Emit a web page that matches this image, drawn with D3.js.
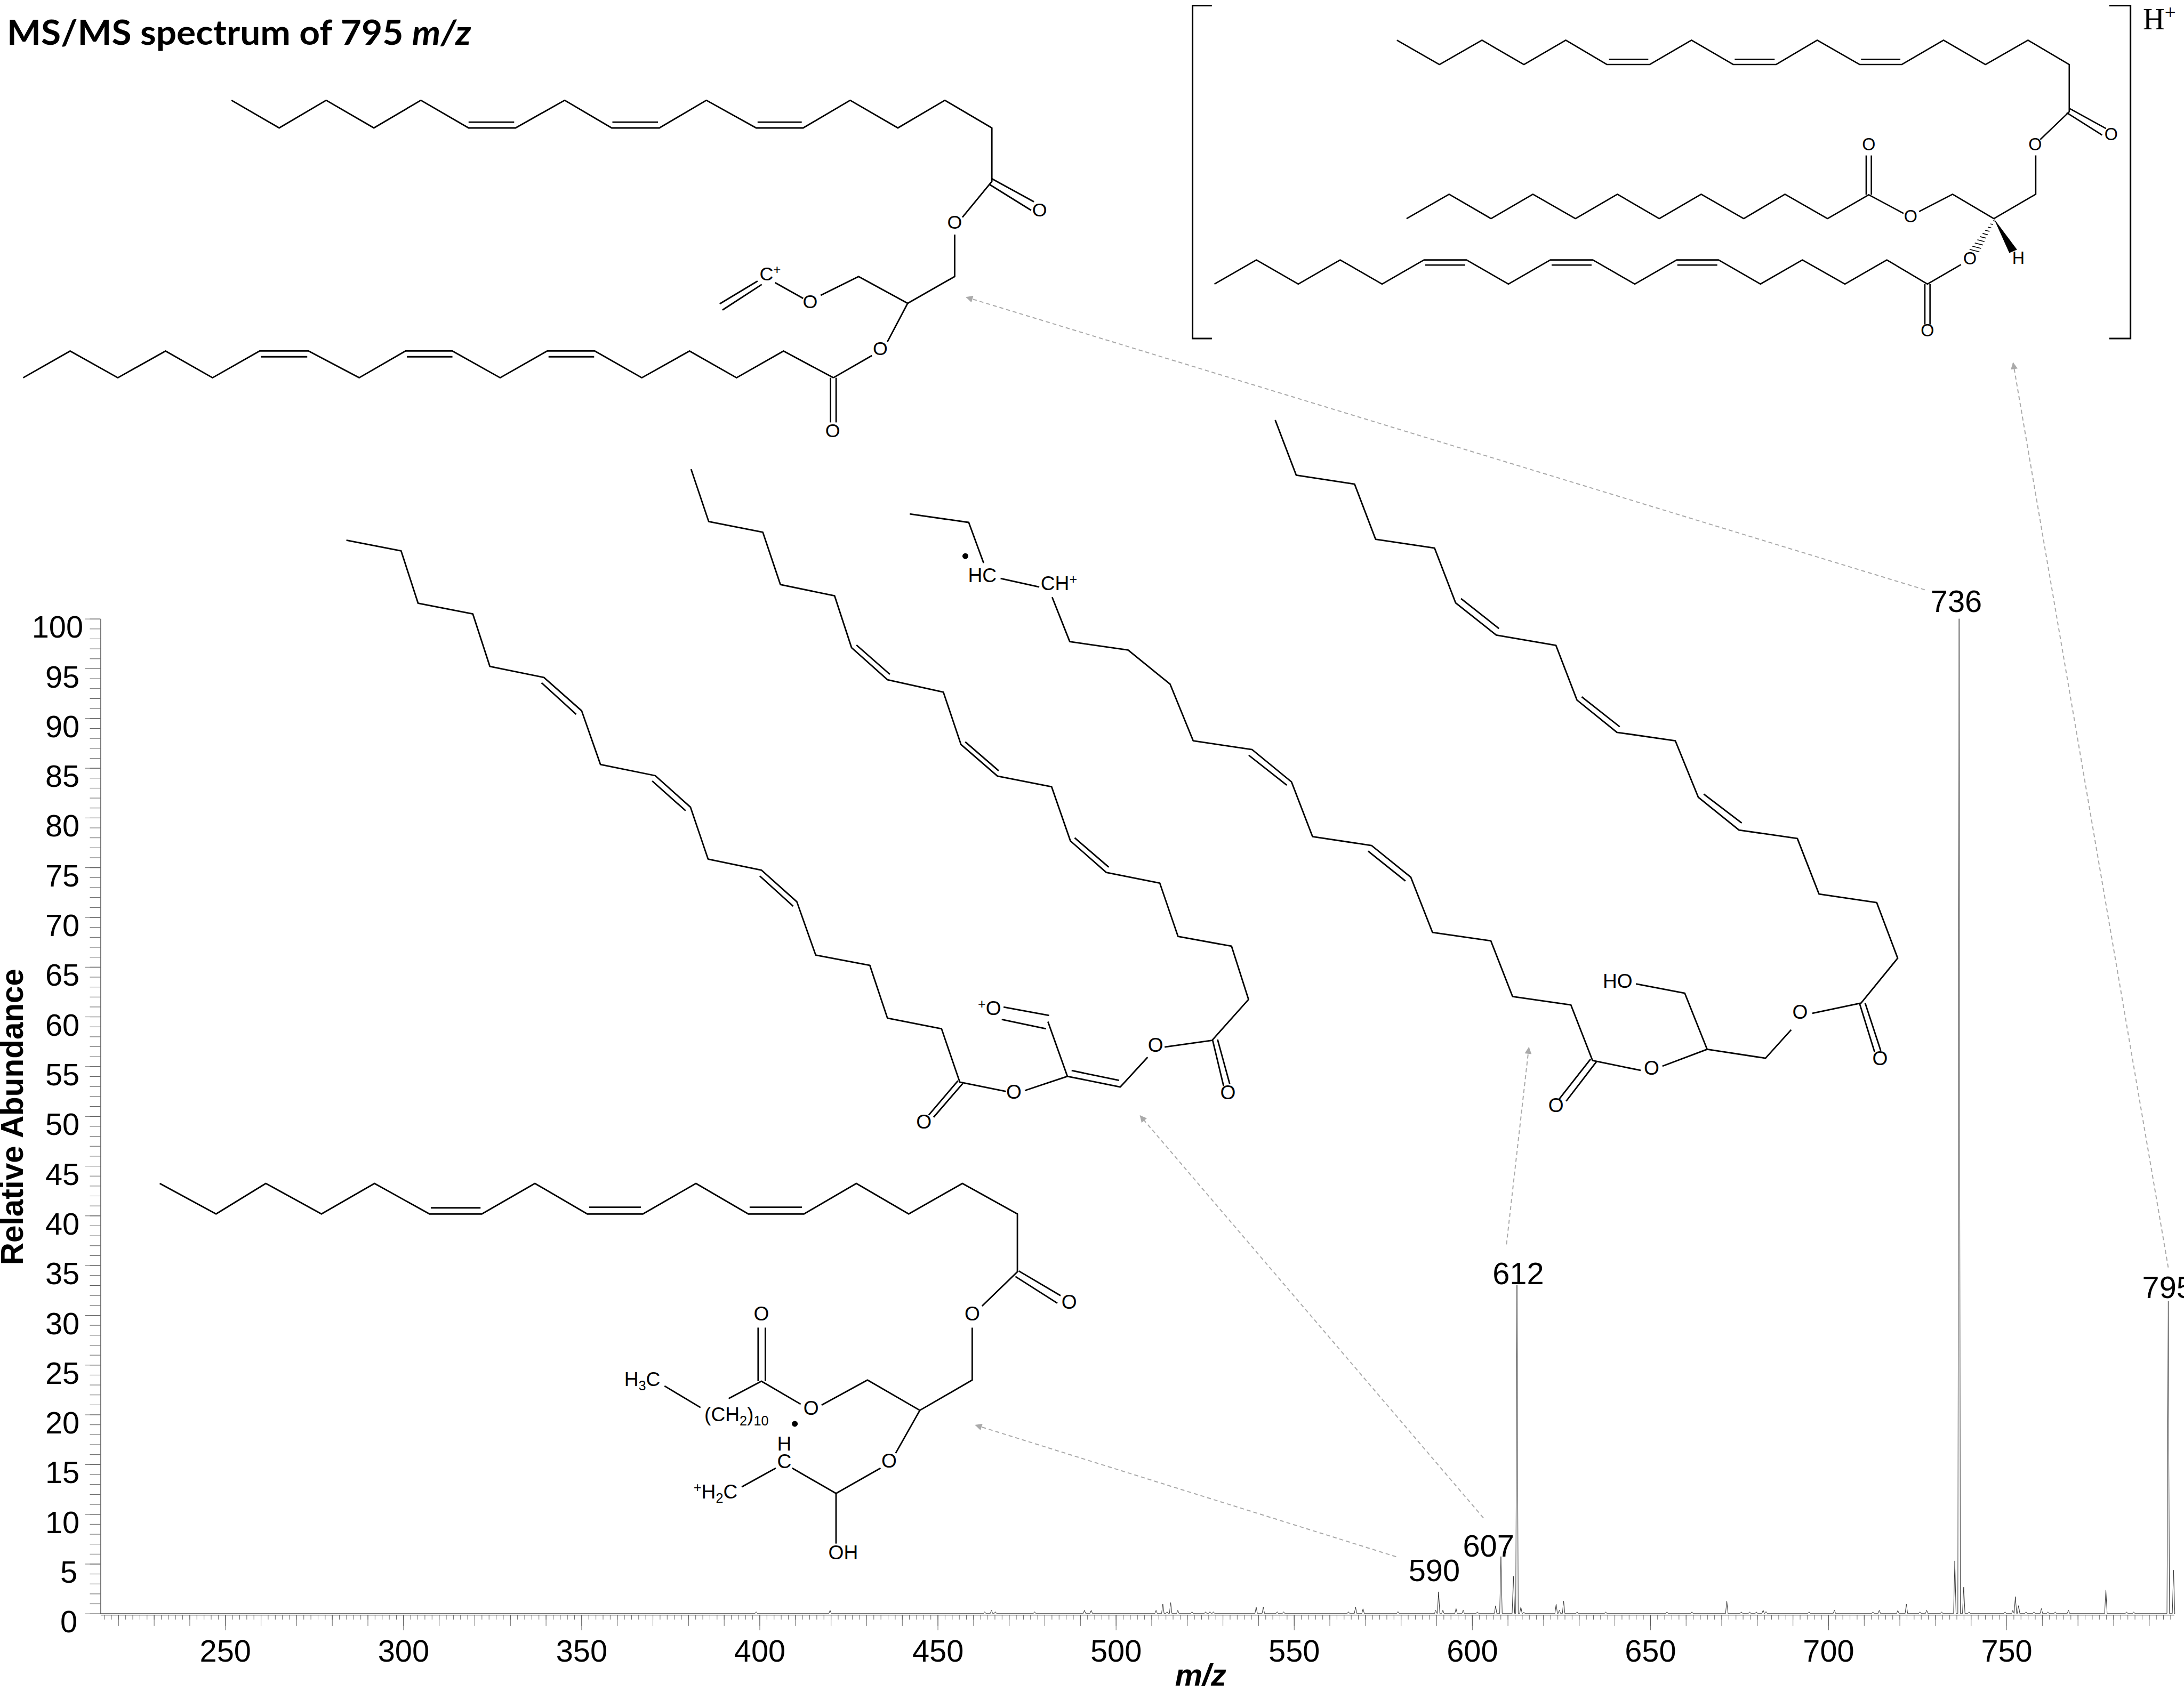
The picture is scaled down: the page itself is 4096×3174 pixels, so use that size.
<!DOCTYPE html>
<html>
<head>
<meta charset="utf-8">
<style>
  html, body { margin: 0; padding: 0; background: #fff; overflow: hidden; }
  svg { display: block; }
</style>
<script src="https://cdn.jsdelivr.net/npm/d3@7"></script>
</head>
<body>
<div id="chart"></div>
<script>
// Reference is 5957 wide, everything is drawn at k of it
const k = 4096 / 5957
const width = 4096
const height = 3174

// ---- spectrum values: [m/z, relative abundance]
const peaks_low = [
  [399.05, 0.17], [419.8, 0.32], [463.2, 0.17], [465.1, 0.32], [466.2, 0.17], [477.2, 0.17],
  [491.2, 0.32], [493.1, 0.32], [511.3, 0.32], [513.2, 0.95], [514.4, 0.17], [515.4, 1.09],
  [517.4, 0.32], [521.4, 0.17], [525.2, 0.17], [526.4, 0.17], [527.4, 0.17], [539.4, 0.63],
  [541.4, 0.63], [545.3, 0.17], [547.1, 0.17], [565.3, 0.17], [567.3, 0.63], [569.4, 0.48]
]
const peaks_mid = [
  [579.2, 0.19], [589.8, 0.33], [590.6, 2.19], [591.8, 0.33], [595.5, 0.5], [597.5, 0.33],
  [601.5, 0.16], [606.6, 0.77], [608.1, 5.73], [611.6, 3.74], [612.6, 33], [613.7, 0.65],
  [614.5, 0.15], [623.6, 0.94], [624.5, 0.33], [625.7, 1.25], [629.5, 0.16], [637.5, 0.16],
  [654.7, 0.16], [661.7, 0.16], [671.5, 1.25], [675.6, 0.16], [677.9, 0.16], [679.8, 0.16],
  [681.7, 0.33], [682.5, 0.19], [694.6, 0.16], [701.7, 0.33]
]
const peaks_high = [
  [712.5, 0.16], [714.3, 0.33], [719.5, 0.3], [721.9, 0.94], [725.7, 0.16], [727.6, 0.33],
  [731.8, 0.16], [735.5, 5.3], [736.7, 100], [738, 2.65], [739.5, 0.16], [749.6, 0.16],
  [751.8, 0.33], [752.5, 1.7], [753.4, 0.8], [755.5, 0.16], [757.7, 0.16], [759.8, 0.5],
  [761.6, 0.16], [763.7, 0.16], [767.4, 0.33], [777.9, 2.36], [783.7, 0.16], [785.7, 0.16],
  [795.4, 31.4], [796.9, 4.36]
]
const peak_half_width = 0.35

// ---- axes
const x_domain = [215, 797]
const y_domain = [0, 100]
const x_tick_labels = [250, 300, 350, 400, 450, 500, 550, 600, 650, 700, 750]
const y_tick_labels = d3.range(0, 101, 5)

// ---- peak labels: text, left edge and baseline in reference pixels
const peak_labels = [
  ["736", 5266, 1670], ["612", 4071, 3503], ["795", 5843, 3542],
  ["590", 3842, 4314], ["607", 3990, 4246]
]

// ---- dashed arrows from the peaks to their structures, [x1, y1, x2, y2] in reference pixels
const arrows = [
  [5250, 1609, 2636, 811],
  [5914, 3458, 5491, 990],
  [4109, 3395, 4170, 2858],
  [4046, 4141, 3110, 3044],
  [3808, 4247, 2661, 3888]
]

// ---- Structures. Vertices are traced in the coordinates of a crop of the reference,
// each crop maps to the page with its own pair of scales below.

// Top left, crop 0,0 3000x1300
const mol_a_bonds = [
  [[330,330],[398,421],[465,330],[533,421],[600,330],[668,421],[735,421],[805,330],[872,421],[940,421],[1007,330],[1078,421],[1145,421],[1212,330],[1280,421],[1347,330],[1414,421],[1414,597],[1372,715]],
  [[668,402],[733,402]], [[873,402],[938,402]], [[1080,402],[1143,402]],
  [[1414,588],[1474,664]], [[1410,606],[1470,692]],
  [[1361,772],[1361,910],[1294,998],[1224,910],[1170,972]],
  [[1145,982],[1105,930]], [[1080,925],[1026,1000]], [[1086,936],[1030,1020]],
  [[1294,998],[1265,1125]], [[1243,1170],[1188,1243]],
  [[1184,1243],[1184,1390]], [[1192,1243],[1192,1390]],
  [[1188,1243],[1117,1155],[1050,1243],[983,1155],[915,1243],[848,1155],[780,1155],[713,1243],[645,1155],[578,1155],[512,1243],[440,1155],[370,1155],[303,1243],[236,1155],[168,1243],[100,1155],[33,1243]],
  [[372,1174],[438,1174]], [[580,1174],[645,1174]], [[782,1174],[847,1174]]
]
const mol_a_labels = [
  ["O", 1482, 690], ["O", 1361, 730], ["C^+", 1098, 900], ["O", 1155, 992], ["O", 1255, 1145], ["O", 1187, 1415]
]

// Top right, crop 3200,0 2757x1000
const mol_b_bonds = [
  [[347,172],[413,276],[479,172],[544,276],[609,172],[673,276],[739,276],[804,172],[869,276],[935,276],[999,172],[1065,276],[1130,276],[1195,172],[1260,276],[1326,172],[1390,276],[1390,478],[1345,597]],
  [[676,254],[737,254]], [[871,254],[933,254]], [[1067,254],[1128,254]],
  [[1391,465],[1447,550]], [[1386,482],[1441,578]],
  [[1338,665],[1338,831],[1273,935],[1209,831],[1157,905]],
  [[1133,913],[1079,833],[1015,935],[949,831],[885,935],[819,831],[754,935],[689,831],[624,935],[558,831],[493,935],[428,831],[362,935]],
  [[1075,833],[1075,665]], [[1083,833],[1083,665]],
  [[1222,1132],[1170,1215],[1107,1112],[1042,1215],[976,1112],[911,1215],[846,1112],[781,1112],[716,1215],[651,1112],[585,1112],[520,1215],[455,1112],[389,1112],[324,1215],[259,1112],[194,1215],[129,1112],[64,1215]],
  [[391,1134],[453,1134]], [[587,1134],[649,1134]], [[782,1134],[844,1134]],
  [[1166,1215],[1166,1388]], [[1174,1215],[1174,1388]]
]
const mol_b_brackets = [
  [[60,24],[30,24],[30,1448],[60,1448]],
  [[1452,24],[1485,24],[1485,1448],[1452,1448]]
]
const mol_b_labels = [
  ["O", 1455, 574], ["O", 1337, 616], ["O", 1079, 617], ["O", 1144, 925],
  ["O", 1236, 1105], ["H", 1311, 1103], ["O", 1170, 1412]
]
const mol_b_wedge = [[1273,935],[1297,1082],[1309,1068]]
const mol_b_hash = [[1273,945],[1243,1072]]

// Bottom left, crop 300,3100 2800x1200
const mol_c_bonds = [
  [[76,168],[162,277],[238,168],[323,277],[404,168],[488,277],[568,277],[649,168],[729,277],[814,277],[895,168],[975,277],[1060,277],[1140,168],[1220,277],[1302,168],[1386,277],[1386,483],[1332,605]],
  [[490,255],[566,255]], [[732,253],[811,253]], [[977,253],[1057,253]],
  [[1388,480],[1452,568]], [[1383,500],[1447,595]],
  [[1317,682],[1317,869],[1237,977],[1157,869],[1087,958]],
  [[1055,955],[995,873],[945,935]], [[847,890],[902,967]],
  [[990,873],[990,682]], [[1001,873],[1001,682]],
  [[1237,977],[1200,1130]], [[1177,1183],[1109,1273],[1042,1183]],
  [[1017,1183],[965,1250]], [[1109,1273],[1109,1452]]
]
const mol_c_labels = [
  ["O", 1465, 590], ["O", 1317, 632], ["O", 995, 632], ["O", 1071, 967], ["H_3C", 813, 865],
  ["(CH_2)_10", 957, 990], ["O", 1190, 1155], ["H", 1030, 1095], ["C", 1030, 1158],
  ["^+H_2C", 925, 1265], ["OH", 1120, 1482]
]
const mol_c_dots = [[1046, 1025]]

// Middle left, crop 900,1200 2600x1900
const mol_d_bonds = [
  [[27,226],[117,250],[145,368],[235,392],[263,510],[352,535],[414,610],[445,731],[535,756],[593,827],[622,944],[710,969],[768,1040],[799,1160],[888,1183],[917,1302],[1006,1326],[1036,1446],[1112,1467]],
  [[348,547],[405,618]], [[530,768],[585,835]], [[707,982],[762,1050]],
  [[1033,1443],[985,1520]], [[1041,1449],[993,1525]],
  [[1143,1465],[1213,1433],[1300,1457],[1345,1390]], [[1220,1420],[1298,1442]],
  [[1213,1433],[1181,1310]], [[1183,1296],[1108,1277]], [[1178,1326],[1105,1305]],
  [[1373,1367],[1451,1352],[1511,1260],[1483,1140],[1395,1118],[1365,998],[1277,974],[1218,903],[1187,781],[1098,757],[1038,686],[1009,568],[917,540],[858,468],[830,351],[741,326],[712,208],[623,184],[594,66]],
  [[866,462],[921,528]], [[1045,680],[1100,745]], [[1225,896],[1281,962]],
  [[1452,1352],[1470,1455]], [[1460,1350],[1480,1450]]
]
const mol_d_labels = [
  ["O", 977, 1534], ["O", 1125, 1467], ["^+O", 1085, 1279], ["O", 1358, 1362], ["O", 1477, 1468]
]

// Middle right, crop 2400,1100 2900x2000
const mol_e_bonds = [
  [[44,237],[131,255],[153,342]], [[178,375],[235,393]],
  [[254,415],[280,510],[366,528],[428,601],[462,722],[549,741],[607,810],[638,927],[725,946],[783,1014],[815,1132],[901,1150],[933,1269],[1019,1287],[1051,1406],[1122,1427]],
  [[544,753],[600,817]], [[720,958],[775,1022]],
  [[1048,1403],[1002,1488]], [[1057,1408],[1012,1493]],
  [[1154,1418],[1220,1382],[1306,1401],[1344,1340]],
  [[1220,1382],[1187,1262],[1115,1242]],
  [[1375,1305],[1447,1283],[1501,1187],[1470,1068],[1385,1050],[1353,931],[1267,913],[1207,843],[1173,722],[1087,704],[1028,635],[997,518],[909,496],[849,427],[818,310],[731,291],[700,173],[614,154],[583,36]],
  [[1215,836],[1271,898]], [[1035,628],[1091,692]], [[857,418],[913,482]],
  [[1445,1285],[1467,1388]], [[1453,1283],[1476,1385]]
]
const mol_e_labels = [
  ["HC", 151, 367], ["CH^+", 264, 385], ["O", 997, 1501], ["O", 1138, 1421], ["O", 1357, 1301],
  ["O", 1475, 1401], ["HO", 1088, 1235]
]
const mol_e_dots = [[126, 327]]

// ---- page
const svg = d3.select("#chart")
  .append("svg")
  .attr("width", width)
  .attr("height", height)
  .attr("viewBox", `0 0 ${width} ${height}`)
  .style("background", "#fff")

const px = d3.scaleLinear().domain([0, 5957]).range([0, width])

// ---- chart scales
const x_scale = d3.scaleLinear().domain(x_domain).range([px(274), px(5929.5)])
const y_scale = d3.scaleLinear().domain(y_domain).range([px(4402), px(1688)])

const axis_color = "#555"
const tick_font = "'Liberation Sans', Arial, sans-serif"

// Horizontal axis: three layers of ticks, the gray domain line comes from the first
const x_axis_y = px(4405.6)
const x_minor = svg.append("g")
  .attr("class", "x_axis_minor")
  .attr("transform", `translate(0,${x_axis_y})`)
  .call(d3.axisBottom(x_scale).tickValues(d3.range(216, 798, 2)).tickSize(px(13)).tickSizeOuter(0).tickFormat(""))
x_minor.select(".domain").attr("stroke", "#888").attr("stroke-width", 1.6)
x_minor.selectAll(".tick line").attr("stroke", axis_color).attr("stroke-width", 0.9)

const x_mid = svg.append("g")
  .attr("class", "x_axis_mid")
  .attr("transform", `translate(0,${x_axis_y})`)
  .call(d3.axisBottom(x_scale).tickValues(d3.range(220, 798, 10)).tickSize(px(30)).tickSizeOuter(0).tickFormat(""))
x_mid.select(".domain").remove()
x_mid.selectAll(".tick line").attr("stroke", axis_color).attr("stroke-width", 0.9)

const x_major = svg.append("g")
  .attr("class", "x_axis_major")
  .attr("transform", `translate(0,${x_axis_y})`)
  .call(d3.axisBottom(x_scale).tickValues(x_tick_labels).tickSize(px(42)).tickSizeOuter(0).tickFormat(d3.format("d")))
x_major.select(".domain").remove()
x_major.selectAll(".tick line").attr("stroke", axis_color).attr("stroke-width", 0.9)
x_major.selectAll(".tick text")
  .attr("y", px(127))
  .attr("dy", 0)
  .attr("fill", "#000")
  .style("font-family", tick_font)
  .style("font-size", `${px(84)}px`)

// Vertical axis
const y_minor = svg.append("g")
  .attr("class", "y_axis_minor")
  .attr("transform", `translate(${px(274)},0)`)
  .call(d3.axisLeft(y_scale).tickValues(d3.range(0, 101, 1)).tickSize(px(29)).tickSizeOuter(0).tickFormat(""))
y_minor.select(".domain").attr("stroke", "#222").attr("stroke-width", 1)
y_minor.selectAll(".tick line").attr("stroke", axis_color).attr("stroke-width", 1)

const y_major = svg.append("g")
  .attr("class", "y_axis_major")
  .attr("transform", `translate(${px(274)},0)`)
  .call(d3.axisLeft(y_scale).tickValues(y_tick_labels).tickSize(px(42)).tickSizeOuter(0).tickFormat(d3.format("d")))
y_major.select(".domain").remove()
y_major.selectAll(".tick line").attr("stroke", axis_color).attr("stroke-width", 1)
y_major.selectAll(".tick text")
  .attr("x", d => px(({ 1: 211, 2: 217, 3: 227 })[String(d).length] - 274))
  .attr("y", px(51))
  .attr("dy", 0)
  .attr("fill", "#000")
  .style("font-family", tick_font)
  .style("font-size", `${px(84)}px`)

// Axis titles
svg.append("text")
  .attr("transform", `translate(${px(62)},${px(3047)}) rotate(-90)`)
  .attr("text-anchor", "middle")
  .style("font-family", tick_font)
  .style("font-weight", "bold")
  .style("font-size", `${px(85)}px`)
  .text("Relative Abundance")
svg.append("text")
  .attr("x", px(3275))
  .attr("y", px(4598))
  .attr("text-anchor", "middle")
  .style("font-family", tick_font)
  .style("font-weight", "bold")
  .style("font-style", "italic")
  .style("font-size", `${px(84)}px`)
  .text("m/z")

// Spectrum: flat baseline with a narrow triangle at each peak
const all_peaks = [...peaks_low, ...peaks_mid, ...peaks_high].sort((a, b) => a[0] - b[0])
const spectrum = [[x_domain[0], 0]]
all_peaks.forEach(p => {
  spectrum.push([p[0] - peak_half_width, 0], p, [p[0] + peak_half_width, 0])
})
spectrum.push([x_domain[1], 0])
svg.append("path")
  .attr("class", "spectrum")
  .attr("d", d3.line().x(d => x_scale(d[0])).y(d => y_scale(d[1]))(spectrum))
  .attr("fill", "none")
  .attr("stroke", "#333")
  .attr("stroke-width", 1)
  .attr("stroke-linejoin", "miter")

// Peak labels
svg.append("g")
  .attr("class", "peak_labels")
  .selectAll("text")
  .data(peak_labels)
  .join("text")
  .attr("x", d => px(d[1]))
  .attr("y", d => px(d[2]))
  .style("font-family", tick_font)
  .style("font-size", `${px(84)}px`)
  .text(d => d[0])

// Arrows
svg.append("defs").append("marker")
  .attr("id", "arrow_head")
  .attr("viewBox", "0 0 10 10")
  .attr("refX", 9)
  .attr("refY", 5)
  .attr("markerUnits", "userSpaceOnUse")
  .attr("markerWidth", 15)
  .attr("markerHeight", 13)
  .attr("orient", "auto")
  .append("path")
  .attr("d", "M0,0L10,5L0,10Z")
  .attr("fill", "#aaa")
svg.append("g")
  .attr("class", "arrows")
  .selectAll("line")
  .data(arrows)
  .join("line")
  .attr("x1", d => px(d[0]))
  .attr("y1", d => px(d[1]))
  .attr("x2", d => px(d[2]))
  .attr("y2", d => px(d[3]))
  .attr("stroke", "#aaa")
  .attr("stroke-width", 2)
  .attr("stroke-dasharray", "7.5 5.5")
  .attr("marker-end", "url(#arrow_head)")

// Draws one traced structure
function draw_molecule(name, crop, bonds, labels, font_size, bond_width, dots) {
  const sx = d3.scaleLinear().domain([0, 1568]).range([px(crop[0]), px(crop[0] + crop[2])])
  const sy = d3.scaleLinear().domain([0, 1568]).range([px(crop[1]), px(crop[1] + crop[3])])
  const g = svg.append("g").attr("class", name)
  const line = d3.line().x(d => sx(d[0])).y(d => sy(d[1]))

  g.selectAll("path.bond")
    .data(bonds)
    .join("path")
    .attr("class", "bond")
    .attr("d", line)
    .attr("fill", "none")
    .attr("stroke", "#000")
    .attr("stroke-width", bond_width)
    .attr("stroke-linejoin", "round")

  g.selectAll("text")
    .data(labels)
    .join("text")
    .attr("x", d => sx(d[1]))
    .attr("y", d => sy(d[2]) + font_size * 0.36)
    .attr("text-anchor", "middle")
    .style("font-family", tick_font)
    .style("font-size", `${font_size}px`)
    .each(function(d) {
      // "_" starts a subscript and "^" a superscript
      const el = d3.select(this)
      let shift = 0
      d[0].match(/[_^]?[^_^]+/g).forEach(part => {
        if (part[0] === "_" || part[0] === "^") {
          // only the digits or the sign go small, the rest of the token is normal text
          const m = part.slice(1).match(/^(\d+|\+)(.*)$/)
          const target = part[0] === "_" ? 0.22 : -0.32
          el.append("tspan")
            .attr("dy", `${(target - shift) * font_size}px`)
            .style("font-size", `${font_size * 0.68}px`)
            .text(m[1])
          shift = target
          if (m[2]) {
            el.append("tspan").attr("dy", `${-shift * font_size}px`).text(m[2])
            shift = 0
          }
        } else {
          el.append("tspan").attr("dy", `${-shift * font_size}px`).text(part)
          shift = 0
        }
      })
    })

  g.selectAll("circle")
    .data(dots || [])
    .join("circle")
    .attr("cx", d => sx(d[0]))
    .attr("cy", d => sy(d[1]))
    .attr("r", px(8))
    .attr("fill", "#000")

  return { g, sx, sy }
}

const crop_a = [0, 0, 3000, 1300]
const crop_b = [3200, 0, 2757, 1000]
const crop_c = [300, 3100, 2800, 1200]
const crop_d = [900, 1200, 2600, 1900]
const crop_e = [2400, 1100, 2900, 2000]

draw_molecule("mol_a", crop_a, mol_a_bonds, mol_a_labels, px(52), 2.8)
const mol_b = draw_molecule("mol_b", crop_b, mol_b_bonds, mol_b_labels, px(47), 2.6)
draw_molecule("mol_c", crop_c, mol_c_bonds, mol_c_labels, px(54), 2.8, mol_c_dots)
draw_molecule("mol_d", crop_d, mol_d_bonds, mol_d_labels, px(54), 2.8)
draw_molecule("mol_e", crop_e, mol_e_bonds, mol_e_labels, px(54), 2.8, mol_e_dots)

// Brackets, wedge and hash of the top right structure
mol_b.g.selectAll("path.bracket")
  .data(mol_b_brackets)
  .join("path")
  .attr("class", "bracket")
  .attr("d", d3.line().x(d => mol_b.sx(d[0])).y(d => mol_b.sy(d[1])))
  .attr("fill", "none")
  .attr("stroke", "#000")
  .attr("stroke-width", 3)
mol_b.g.append("path")
  .attr("d", d3.line().x(d => mol_b.sx(d[0])).y(d => mol_b.sy(d[1]))(mol_b_wedge) + "Z")
  .attr("fill", "#000")
mol_b.g.selectAll("line.hash")
  .data(d3.range(10))
  .join("line")
  .attr("class", "hash")
  .each(function(i) {
    const t = i / 9
    const cx = mol_b.sx(mol_b_hash[0][0] + (mol_b_hash[1][0] - mol_b_hash[0][0]) * t)
    const cy = mol_b.sy(mol_b_hash[0][1] + (mol_b_hash[1][1] - mol_b_hash[0][1]) * t)
    const half = 1.5 + 8 * t
    d3.select(this)
      .attr("x1", cx - half * 0.97).attr("y1", cy - half * 0.25)
      .attr("x2", cx + half * 0.97).attr("y2", cy + half * 0.25)
  })
  .attr("stroke", "#000")
  .attr("stroke-width", 1.6)

// H+ outside the bracket
const h_plus = mol_b.g.append("text")
  .attr("x", px(5845))
  .attr("y", px(80))
  .style("font-family", "'Liberation Serif', 'Times New Roman', serif")
  .style("font-size", `${px(82)}px`)
h_plus.append("tspan").text("H")
h_plus.append("tspan")
  .attr("dy", `${-px(28)}px`)
  .style("font-size", `${px(54)}px`)
  .text("+")

// Title
const title = svg.append("text")
  .attr("x", px(19))
  .attr("y", px(122))
  .attr("textLength", px(1266))
  .attr("lengthAdjust", "spacingAndGlyphs")
  .style("font-family", "Lato, 'Open Sans', sans-serif")
  .style("font-weight", "bold")
  .style("font-size", `${px(94)}px`)
title.append("tspan").text("MS/MS spectrum of 795 ")
title.append("tspan").style("font-style", "italic").text("m/z")
</script>
</body>
</html>
